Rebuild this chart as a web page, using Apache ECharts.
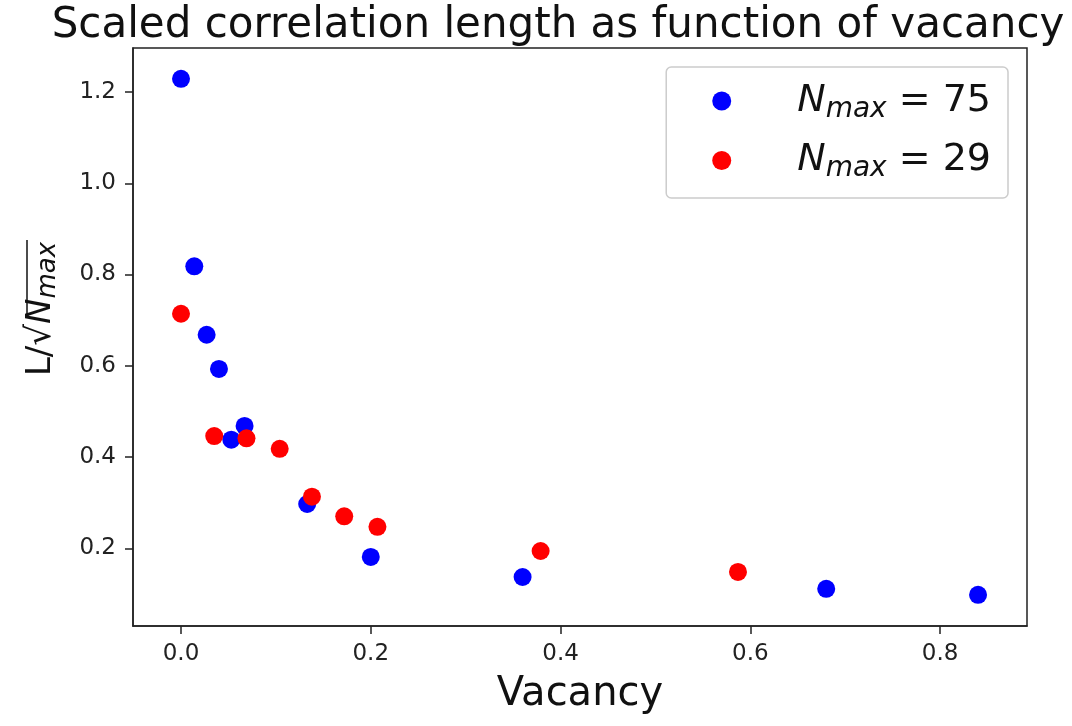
<!DOCTYPE html>
<html><head><meta charset="utf-8">
<script src="https://cdn.jsdelivr.net/npm/echarts@6/dist/echarts.min.js"></script>
<style>html,body{margin:0;padding:0;background:#fff}#c{width:1072px;height:726px}</style>
</head><body><div id="c"></div>
<script>
const vacancy75 = [0.000, 0.014, 0.027, 0.040, 0.053, 0.067, 0.133, 0.200, 0.360, 0.680, 0.840];
const length75  = [1.229, 0.818, 0.668, 0.593, 0.438, 0.468, 0.297, 0.181, 0.137, 0.111, 0.098];
const vacancy29 = [0.000, 0.035, 0.069, 0.104, 0.138, 0.172, 0.207, 0.379, 0.587];
const length29  = [0.714, 0.446, 0.441, 0.418, 0.313, 0.270, 0.247, 0.194, 0.148];
const xTicks = [0.0, 0.2, 0.4, 0.6, 0.8];
const yTicks = [0.2, 0.4, 0.6, 0.8, 1.0, 1.2];
const seriesNames = ['75', '29'];

const chart = echarts.init(document.getElementById('c'));
const font = 'DejaVu Sans';
const legendRich = {
  n: {fontFamily: font, fontSize: 38, fontStyle: 'italic', color: '#111', padding: [0, 0, 0, 61]},
  s: {fontFamily: font, fontSize: 28, fontStyle: 'italic', color: '#111', padding: [17, 0, 0, 0]},
  e: {fontFamily: font, fontSize: 38, color: '#111'}
};
chart.setOption({
  backgroundColor: '#fff',
  animation: false,
  title: {
    text: 'Scaled correlation length as function of vacancy',
    left: 553, top: 0, textAlign: 'center',
    textStyle: {fontFamily: font, fontSize: 42, fontWeight: 'normal', color: '#111'}
  },
  grid: {left: 133, right: 45, top: 48, bottom: 100, show: true, borderColor: '#222', borderWidth: 1.5, backgroundColor: 'transparent'},
  legend: {
    right: 64, top: 67, orient: 'vertical',
    padding: [15, 17, 15, 46], itemGap: 18,
    borderColor: '#ccc', borderWidth: 1.5, borderRadius: 5,
    icon: 'circle', itemWidth: 19, itemHeight: 19,
    formatter: function (name) { return '{n|N}{s|max}{e| = ' + name + '}'; },
    textStyle: {rich: legendRich},
    data: seriesNames
  },
  xAxis: {
    type: 'value', min: -0.0506, max: 0.8916,
    name: 'Vacancy', nameLocation: 'middle', nameGap: 49,
    nameTextStyle: {fontFamily: font, fontSize: 40, color: '#111'},
    axisLine: {show: true, onZero: false, lineStyle: {color: '#222', width: 1.5}},
    axisTick: {show: true, customValues: xTicks, length: 8, lineStyle: {color: '#222', width: 1.5}},
    axisLabel: {customValues: xTicks, fontFamily: font, fontSize: 23, color: '#222', margin: 17,
      formatter: v => v.toFixed(1)},
    splitLine: {show: false}
  },
  yAxis: {
    type: 'value', min: 0.0296, max: 1.2965,
    name: '{a|L/√}{c|N}{b|max}', nameLocation: 'middle', nameGap: 72, nameRotate: 90,
    nameTextStyle: {padding: [0, 0, 0, 56], rich: {
      a: {fontFamily: font, fontSize: 34, color: '#111'},
      c: {fontFamily: font, fontSize: 34, fontStyle: 'italic', color: '#111'},
      b: {fontFamily: font, fontSize: 26, fontStyle: 'italic', color: '#111', padding: [14, 0, 0, 0]}
    }},
    axisLine: {show: true, onZero: false, lineStyle: {color: '#222', width: 1.5}},
    axisTick: {show: true, customValues: yTicks, length: 8, lineStyle: {color: '#222', width: 1.5}},
    axisLabel: {customValues: yTicks, fontFamily: font, fontSize: 23, color: '#222', margin: 17,
      formatter: v => v.toFixed(1)},
    splitLine: {show: false}
  },
  graphic: [{
    type: 'line', shape: {x1: 27, y1: 240, x2: 27, y2: 318},
    style: {stroke: '#111', lineWidth: 1.5}
  }],
  series: [
    {name: seriesNames[0], type: 'scatter', symbolSize: 18, itemStyle: {color: '#0000ff', opacity: 1},
     data: vacancy75.map((x, i) => [x, length75[i]])},
    {name: seriesNames[1], type: 'scatter', symbolSize: 18, itemStyle: {color: '#ff0000', opacity: 1},
     data: vacancy29.map((x, i) => [x, length29[i]])}
  ]
});
</script></body></html>
